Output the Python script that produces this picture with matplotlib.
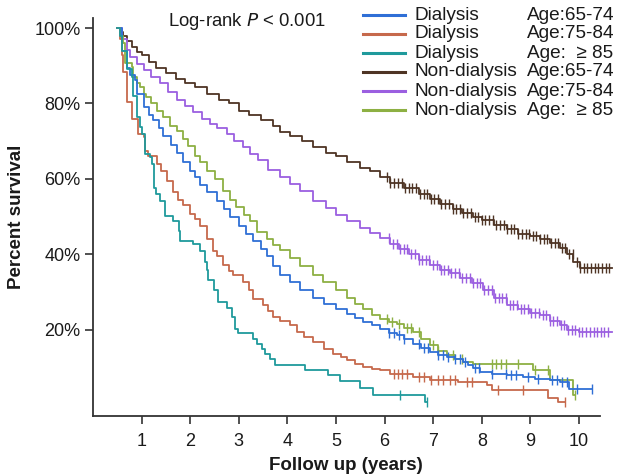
import numpy as np
import matplotlib.pyplot as plt
from matplotlib.lines import Line2D

plt.rcParams['font.family'] = ['Liberation Sans', 'DejaVu Sans']

# Kaplan-Meier step points (years, percent survival)
d6574_t = [0.5, 0.6, 0.69, 0.76, 0.86, 0.9, 1.04, 1.15, 1.24, 1.35, 1.45, 1.6, 1.72, 1.86, 2.0, 2.1,
           2.2, 2.35, 2.55, 2.7, 2.82, 3.0, 3.15, 3.3, 3.45, 3.57, 3.7, 3.85, 4.05, 4.26, 4.53, 4.75,
           5.0, 5.23, 5.4, 5.56, 5.75, 5.91, 6.1, 6.26, 6.4, 6.58, 6.75, 6.93, 7.1, 7.28, 7.45, 7.61,
           7.72, 7.82, 7.96, 8.2, 8.52, 8.85, 9.1, 9.4, 9.6, 9.8, 10.27]
d6574_s = [100, 94, 89.3, 87.5, 86.1, 82.6, 79, 77, 75.5, 73.5, 71.5, 69, 67, 64.5, 62, 60.5,
           58.5, 56.5, 54.1, 52, 50, 47.5, 45.5, 43.5, 41.5, 39.5, 37, 34.5, 32.8, 30.5, 28.5, 27,
           25.5, 24.3, 23.2, 22.1, 21.2, 20.3, 19.3, 18.6, 17.5, 16.3, 15.2, 14.1, 13.4, 12.8, 12.2, 11.5,
           10.6, 9.8, 8.8, 8.4, 8.0, 7.5, 7.1, 6.7, 6.1, 4.3, 4.3]

d7584_t = [0.5, 0.55, 0.59, 0.62, 0.69, 0.8, 0.93, 1.04, 1.07, 1.13, 1.32, 1.4, 1.52, 1.65, 1.75,
           1.86, 2.0, 2.1, 2.2, 2.34, 2.47, 2.55, 2.68, 2.8, 2.88, 3.09, 3.2, 3.3, 3.5, 3.6, 3.7,
           3.85, 4.05, 4.2, 4.35, 4.53, 4.75, 4.94, 5.1, 5.23, 5.4, 5.56, 5.75, 5.91, 6.11, 6.58,
           6.93, 7.5, 7.96, 8.1, 8.2, 9.36, 9.57, 9.72]
d7584_s = [100, 97, 92.8, 88.4, 80.4, 76, 72, 71, 67.5, 66, 64, 62, 59.5, 56.5, 54.5,
           53, 50.6, 49.5, 47.5, 44, 41, 39.5, 37.3, 35.5, 34.6, 32.8, 30.5, 28.3, 26.7, 25, 23.5,
           22.5, 21.3, 19.5, 18.2, 16.8, 15, 13.6, 12.8, 12, 11, 10.1, 9.6, 9.3, 8.3, 7.5,
           6.7, 6.3, 6.1, 5.3, 4.0, 2.1, 0.8, 0.8]

d85_t = [0.5, 0.55, 0.6, 0.69, 0.8, 0.83, 0.9, 0.97, 1.0, 1.07, 1.17, 1.21, 1.25, 1.3, 1.38, 1.48,
         1.65, 1.76, 1.8, 2.06, 2.2, 2.3, 2.34, 2.37, 2.48, 2.58, 2.75, 2.85, 2.92, 2.99, 3.3, 3.37,
         3.47, 3.54, 3.64, 3.74, 4.36, 4.84, 5.08, 5.49, 5.77, 6.83, 6.88]
d85_s = [100, 98, 94, 89.2, 87, 82, 76.4, 73.7, 71.9, 66.6, 65.7, 63.9, 57.7, 55.9, 54.1, 50.1,
         48.8, 46.1, 43.6, 42.7, 41, 38, 35.9, 33.2, 30.6, 27.5, 25.9, 23.5, 20.3, 19.3, 17.7, 16.4,
         15, 13.7, 12.3, 10.6, 9.3, 8, 6.4, 4.5, 2.7, 0.8, 0.8]

nd6574_t = [0.5, 0.55, 0.62, 0.7, 0.8, 0.9, 1.0, 1.15, 1.3, 1.5, 1.7, 1.9, 2.1, 2.35, 2.6, 2.8,
            3.0, 3.2, 3.45, 3.7, 3.85, 4.05, 4.3, 4.53, 4.8, 5.0, 5.23, 5.5, 5.7, 5.91, 6.11, 6.4,
            6.7, 6.93, 7.14, 7.4, 7.6, 7.82, 8.0, 8.25, 8.52, 8.75, 9.0, 9.2, 9.4, 9.61, 9.75,
            9.88, 10.02, 10.68]
nd6574_s = [100, 99, 98, 96.5, 95, 93.7, 92.8, 91, 89.5, 88, 86.5, 85.5, 84.5, 82.5, 81, 80,
            78, 77, 75.5, 74, 72.5, 71.5, 70, 68.5, 67, 66, 64.5, 63, 62, 60.5, 59, 57.5,
            56, 54.7, 53.3, 52, 51, 49.8, 49, 47.8, 46.7, 45.5, 44.8, 44, 43, 41.8, 40,
            38, 36.3, 36.3]

nd7584_t = [0.5, 0.6, 0.69, 0.76, 0.9, 1.04, 1.2, 1.38, 1.55, 1.72, 1.9, 2.06, 2.25, 2.41, 2.55,
            2.75, 2.9, 3.09, 3.23, 3.4, 3.6, 3.85, 4.05, 4.26, 4.53, 4.8, 5.0, 5.23, 5.5, 5.7,
            5.91, 6.11, 6.3, 6.5, 6.7, 6.93, 7.14, 7.35, 7.55, 7.8, 8.02, 8.25, 8.52, 8.75, 9.0,
            9.2, 9.4, 9.6, 9.75, 10.0, 10.68]
nd7584_s = [100, 97, 94.1, 92.3, 90.5, 88.8, 87, 85.3, 83, 80.8, 79.3, 77.7, 76, 74.6, 73.5,
            71.9, 70, 68.4, 66.6, 65, 62.5, 60.5, 58.7, 56.8, 54.1, 52.2, 50.5, 48.8, 47, 45.8,
            44.3, 42.7, 41.5, 40, 38.5, 37.3, 36, 35, 33.8, 32.5, 30.5, 28.5, 26.7, 25.5, 24.5,
            24, 22.5, 21.3, 20, 19.5, 19.5]

nd85_t = [0.5, 0.55, 0.62, 0.66, 0.8, 0.83, 0.9, 0.97, 1.05, 1.1, 1.2, 1.32, 1.45, 1.58, 1.72,
          1.85, 1.96, 2.1, 2.2, 2.34, 2.5, 2.68, 2.82, 2.95, 3.1, 3.23, 3.37, 3.57, 3.7, 3.85,
          4.05, 4.25, 4.53, 4.73, 5.0, 5.23, 5.4, 5.56, 5.75, 5.91, 6.1, 6.26, 6.4, 6.58, 6.75,
          6.93, 7.1, 7.28, 7.45, 7.61, 7.82, 9.06, 9.4, 9.88, 9.92]
nd85_s = [100, 98, 96, 90.6, 89.7, 87, 85.3, 84.4, 82.5, 81.7, 80, 78.1, 76.5, 74, 72.8,
          70.5, 68.8, 66, 64.5, 62.1, 60, 56.8, 54.4, 52.5, 50.5, 48.8, 46, 44, 42.5, 41.2,
          39, 37, 34.6, 32.8, 30.5, 28.5, 27, 25.6, 24, 22.9, 22, 21.6, 20.5, 19.5, 17.5,
          16, 14.5, 13.3, 12.3, 11.5, 10.9, 9.3, 6.7, 2.7, 2.7]

# censoring times
d6574_c = [6.1, 6.2, 6.3, 6.4, 6.7, 6.8, 6.9, 7.1, 7.2, 7.3, 7.45, 7.55, 7.65, 7.85, 7.95, 8.2,
           8.5, 8.6, 8.7, 8.95, 9.15, 9.45, 9.55, 9.65, 9.75, 9.95, 10.27]
d7584_c = [6.2, 6.28, 6.36, 6.46, 6.7, 6.8, 6.95, 7.1, 7.2, 7.35, 7.45, 7.7, 7.8, 8.33, 8.85, 9.72]
d85_c = [6.32, 6.88]
nd6574_c = [6.05, 6.12, 6.2, 6.27, 6.35, 6.42, 6.5, 6.57, 6.65, 6.72, 6.8, 6.87, 6.95, 7.02,
            7.1, 7.17, 7.25, 7.32, 7.4, 7.47, 7.55, 7.62, 7.7, 7.77, 7.85, 7.92, 8.0, 8.07,
            8.15, 8.22, 8.3, 8.37, 8.45, 8.52, 8.6, 8.67, 8.75, 8.82, 8.9, 8.97, 9.05, 9.12,
            9.2, 9.27, 9.35, 9.42, 9.5, 9.57, 9.65, 9.72, 9.8, 9.87, 9.95, 10.02, 10.1, 10.17,
            10.25, 10.32, 10.4, 10.47, 10.55, 10.62]
nd7584_c = [6.1, 6.17, 6.25, 6.32, 6.4, 6.47, 6.55, 6.62, 6.7, 6.77, 6.85, 6.92, 7.0, 7.07,
            7.15, 7.22, 7.3, 7.37, 7.45, 7.52, 7.6, 7.67, 7.75, 7.82, 7.9, 7.97, 8.05, 8.12,
            8.2, 8.27, 8.35, 8.42, 8.5, 8.57, 8.65, 8.72, 8.8, 8.87, 8.95, 9.02, 9.1, 9.17,
            9.25, 9.32, 9.4, 9.47, 9.55, 9.62, 9.7, 9.77, 9.85, 9.92, 10.0, 10.07, 10.15, 10.22,
            10.3, 10.37, 10.45, 10.52, 10.6]
nd85_c = [6.05, 6.15, 6.3, 6.45, 6.55, 6.7, 7.0, 7.1, 7.4, 7.6, 8.2, 8.3, 8.4, 8.5, 8.75,
          9.1, 9.37, 9.92]

groups = ['Dialysis', 'Dialysis', 'Dialysis', 'Non-dialysis', 'Non-dialysis', 'Non-dialysis']
ages = ['Age:65-74', 'Age:75-84', 'Age:  \u2265 85', 'Age:65-74', 'Age:75-84', 'Age:  \u2265 85']
colors = ['#2f6fd6', '#c6694c', '#1f9a9c', '#4e3424', '#9b5fe0', '#8db043']

series = [(d6574_t, d6574_s, d6574_c), (d7584_t, d7584_s, d7584_c), (d85_t, d85_s, d85_c),
          (nd6574_t, nd6574_s, nd6574_c), (nd7584_t, nd7584_s, nd7584_c), (nd85_t, nd85_s, nd85_c)]

W, H = 617, 476
fig = plt.figure(figsize=(W / 100, H / 100), dpi=100)
ax = fig.add_axes([93 / W, 1 - 416 / H, 522.5 / W, 398 / H])

# draw order: non-dialysis first, dialysis on top
for i in [3, 4, 5, 0, 1, 2]:
    t, s, c = series[i]
    t = np.array(t)
    s = np.array(s)
    ax.plot(t, s, drawstyle='steps-post', color=colors[i], lw=1.3)
    idx = np.searchsorted(t, c, side='right') - 1
    ax.plot(c, s[idx], ls='none', marker='|', ms=7.5, mew=1.0, color=colors[i])

ax.set_xlim(0, 10.75)
ax.set_ylim(-2.8, 102.65)
ax.set_xticks(range(1, 11))
ax.set_yticks([20, 40, 60, 80, 100])
ax.set_yticklabels(['20%', '40%', '60%', '80%', '100%'])
for sp in ['top', 'right']:
    ax.spines[sp].set_visible(False)
for sp in ['left', 'bottom']:
    ax.spines[sp].set_color('#333333')
    ax.spines[sp].set_linewidth(1.3)
ax.spines['bottom'].set_bounds(0, 10.43)
ax.tick_params(axis='both', colors='#333333', width=1.2, length=6, labelsize=13,
               labelcolor='#1a1a1a')
ax.tick_params(axis='x', pad=6)
ax.tick_params(axis='y', pad=3)

fig.text(17 / W, 1 - 217 / H, 'Percent survival', rotation=90, ha='center', va='center',
         fontsize=13.5, fontweight='bold', color='#1a1a1a')
fig.text(346 / W, 1 - 465 / H, 'Follow up (years)', ha='center', va='center',
         fontsize=13.5, fontweight='bold', color='#1a1a1a')
fig.text(168 / W, 1 - 21 / H, 'Log-rank $\\mathit{P}$ < 0.001', ha='left', va='center',
         fontsize=13.3, color='#1a1a1a')

# legend drawn by hand to keep the two text columns
row_y = [15, 34, 53, 72, 91, 110]
for i in range(6):
    yy = 1 - row_y[i] / H
    fig.add_artist(Line2D([363 / W, 405 / W], [yy, yy], color=colors[i], lw=2.2))
    fig.text(415 / W, yy, groups[i], ha='left', va='center', fontsize=13.7, color='#1a1a1a')
    fig.text(527 / W, yy, ages[i], ha='left', va='center', fontsize=13.7, color='#1a1a1a')

fig.savefig('out.png', dpi=100)
